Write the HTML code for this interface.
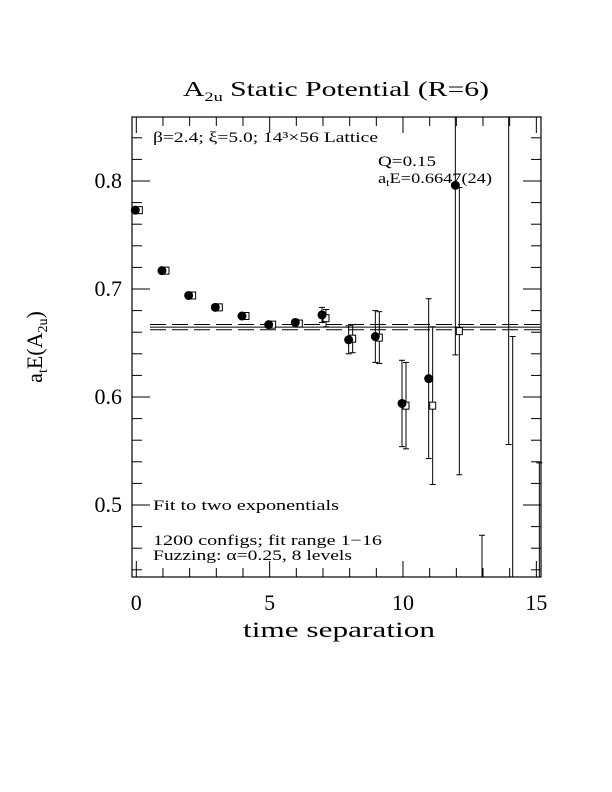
<!DOCTYPE html>
<html><head><meta charset="utf-8"><style>
body{margin:0;background:#fff}
svg{display:block;font-family:"Liberation Serif",serif}
</style></head><body>
<svg width="612" height="792" viewBox="0 0 612 792">
<text x="183" y="96" font-size="21" textLength="306" lengthAdjust="spacingAndGlyphs">A<tspan font-size="13" dy="5">2u</tspan><tspan dy="-5"> Static Potential (R=6)</tspan></text>
<rect x="132" y="117" width="409" height="460" fill="none" stroke="#000" stroke-width="1.2"/>
<g id="ticks"></g>
<g id="fit"></g>
<g id="marks"></g>
<text x="153" y="142" font-size="15" textLength="225" lengthAdjust="spacingAndGlyphs">β=2.4; ξ=5.0; 14³×56 Lattice</text>
<text x="378" y="166" font-size="15" textLength="58" lengthAdjust="spacingAndGlyphs">Q=0.15</text>
<text x="378" y="183" font-size="15" textLength="114" lengthAdjust="spacingAndGlyphs">a<tspan font-size="10" dy="3">t</tspan><tspan dy="-3">E=0.6647(24)</tspan></text>
<text x="153" y="510" font-size="15" textLength="186" lengthAdjust="spacingAndGlyphs">Fit to two exponentials</text>
<text x="153" y="545" font-size="15" textLength="229" lengthAdjust="spacingAndGlyphs">1200 configs; fit range 1−16</text>
<text x="153" y="560" font-size="15" textLength="199" lengthAdjust="spacingAndGlyphs">Fuzzing: α=0.25, 8 levels</text>
<text x="243" y="637" font-size="22" textLength="192" lengthAdjust="spacingAndGlyphs">time separation</text>
<text transform="translate(42,347) rotate(-90)" font-size="22" text-anchor="middle">a<tspan font-size="14" dy="5">t</tspan><tspan dy="-5">E(A</tspan><tspan font-size="14" dy="5">2u</tspan><tspan dy="-5">)</tspan></text>
<g id="labels"></g>
</svg>
<script>
const xTicks=[0,5,10,15];
const yTicks=[0.5,0.6,0.7,0.8];
const times=[0,1,2,3,4,5,6,7,8,9,10,11,12,13,14,15];
const circleVals=[0.773,0.717,0.694,0.683,0.675,0.667,0.669,0.676,0.653,0.656,0.594,0.617,0.796,0.39,0.95,0.30];
const circleErrs=[0.002,0.002,0.002,0.002,0.002,0.002,0.003,0.007,0.013,0.024,0.040,0.074,0.157,0.082,0.394,0.0];
const squareVals=[0.773,0.717,0.694,0.683,0.675,0.667,0.668,0.673,0.654,0.655,0.592,0.592,0.661,0.0,0.40,0.40];
const squareErrs=[0.002,0.002,0.002,0.002,0.002,0.002,0.003,0.008,0.013,0.024,0.040,0.073,0.133,0.0,0.256,0.139];
const fitE=0.6647, fitErr=0.0024;
const NS="http://www.w3.org/2000/svg";
const X=t=>136.3+26.67*t;
const Y=v=>181-(v-0.8)*1080;
const L=132,R=541,T=117,B=577;
function mk(tag,attrs,parent){const e=document.createElementNS(NS,tag);for(const k in attrs)e.setAttribute(k,attrs[k]);parent.appendChild(e);return e;}
const clip=v=>Math.max(T,Math.min(B,v));
const tk=document.getElementById('ticks');
for(let t=0;t<=15;t++){const maj=t%5===0;const len=maj?16:9;
 let e=mk('line',{x1:X(t),x2:X(t),y1:B,y2:B-len,stroke:'#000'},tk);
 
 e=mk('line',{x1:X(t),x2:X(t),y1:T,y2:T+len,stroke:'#000'},tk);
 }
for(let i=22;i<=42;i++){const v=i*0.02;const y=Y(v);if(y<T||y>B)continue;const maj=Math.abs(v*10-Math.round(v*10))<1e-6;const len=maj?18:10;
 let e=mk('line',{x1:L,x2:L+len,y1:y,y2:y,stroke:'#000'},tk);
 
 e=mk('line',{x1:R,x2:R-len,y1:y,y2:y,stroke:'#000'},tk);
 }
const lb=document.getElementById('labels');
xTicks.forEach(t=>{const e=mk('text',{x:X(t),y:610,'font-size':22,'text-anchor':'middle'},lb);e.textContent=t;
 });
yTicks.forEach(v=>{const e=mk('text',{x:122,y:Y(v)+7,'font-size':22,'text-anchor':'end'},lb);e.textContent=v.toFixed(1);
 });
const ft=document.getElementById('fit');
let f=mk('line',{x1:150,x2:R,y1:Y(fitE),y2:Y(fitE),stroke:'#000'},ft);

[fitE+fitErr,fitE-fitErr].forEach(v=>{const e=mk('line',{x1:150,x2:R,y1:Y(v),y2:Y(v),stroke:'#000','stroke-dasharray':'16,6'},ft);
 });
const mg=document.getElementById('marks');
function ebar(x,v,err){if(err<=0)return;const y1=Y(v+err),y2=Y(v-err);
 if(y2<T||y1>B)return;
 const e=mk('line',{x1:x,x2:x,y1:clip(y1),y2:clip(y2),stroke:'#000'},mg);
 
 [y1,y2].forEach(y=>{if(y>T&&y<B){const c=mk('line',{x1:x-3,x2:x+3,y1:y,y2:y,stroke:'#000'},mg);
  }});}
times.forEach((t,i)=>{
 const xs=X(t)+3;const vs=squareVals[i];
 ebar(xs,vs,squareErrs[i]);
 const ys=Y(vs);if(ys>T&&ys<B){const s=mk('rect',{x:xs-3,y:ys-3.5,width:6,height:7,fill:'#fff',stroke:'#000'},mg);
  }
 const xc=X(t)-1;const vc=circleVals[i];
 ebar(xc,vc,circleErrs[i]);
 const yc=Y(vc);if(yc>T&&yc<B){const c=mk('circle',{cx:xc,cy:yc,r:4.5,fill:'#000'},mg);
  }
});
</script>
</body></html>
